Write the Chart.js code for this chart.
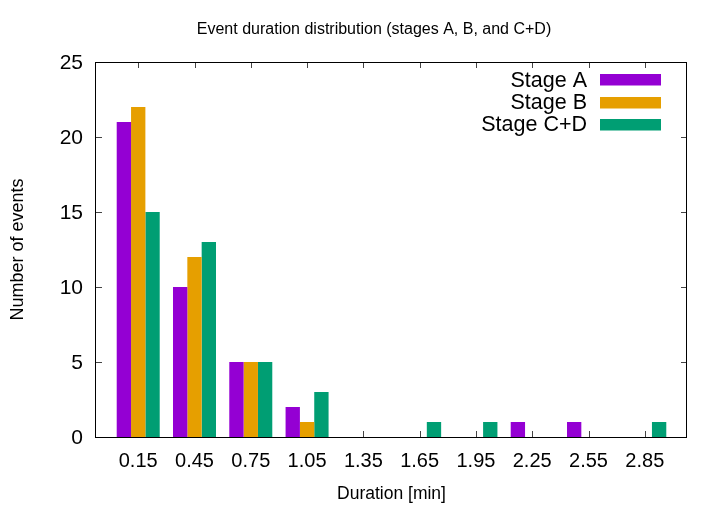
<!DOCTYPE html>
<html>
<head>
<meta charset="utf-8">
<script src="https://cdn.jsdelivr.net/npm/chart.js@4"></script>
<style>
  html, body { margin: 0; padding: 0; background: #fff; }
  #wrap { width: 727px; height: 509px; position: relative; }
</style>
</head>
<body>
<div id="wrap"><canvas id="chart"></canvas></div>
<script>
const durations = [0.15, 0.45, 0.75, 1.05, 1.35, 1.65, 1.95, 2.25, 2.55, 2.85];
const stageA = [21, 10, 5, 2, 0, 0, 0, 1, 1, 0];
const stageB = [22, 12, 5, 1, 0, 0, 0, 0, 0, 0];
const stageCD = [15, 13, 5, 3, 0, 1, 1, 0, 0, 1];
const yTicks = [0, 5, 10, 15, 20, 25];

const FONT = "'Liberation Sans', Arial, Helvetica, sans-serif";

function points(values) {
  return durations.map((x, i) => ({ x: x, y: values[i] }));
}

// gnuplot-like frame with inward ticks on all four sides
const framePlugin = {
  id: "frame",
  beforeDatasetsDraw(chart) {
    const { ctx, chartArea: a, scales } = chart;
    ctx.save();
    ctx.strokeStyle = "#444";
    ctx.lineWidth = 1;
    ctx.beginPath();
    durations.forEach((v) => {
      const px = Math.round(scales.x.getPixelForValue(v)) + 0.5;
      ctx.moveTo(px, a.bottom); ctx.lineTo(px, a.bottom - 6);
      ctx.moveTo(px, a.top); ctx.lineTo(px, a.top + 6);
    });
    yTicks.forEach((v) => {
      const py = Math.round(scales.y.getPixelForValue(v)) + 0.5;
      ctx.moveTo(a.left, py); ctx.lineTo(a.left + 6, py);
      ctx.moveTo(a.right, py); ctx.lineTo(a.right - 6, py);
    });
    ctx.stroke();
    ctx.restore();
  },
  afterDatasetsDraw(chart) {
    const { ctx, chartArea: a } = chart;
    ctx.save();
    ctx.strokeStyle = "#000";
    ctx.lineWidth = 1;
    ctx.strokeRect(Math.round(a.left) - 0.5, Math.round(a.top) + 0.5,
      Math.round(a.right - a.left), Math.round(a.bottom - a.top));
    ctx.restore();
  },
  afterDraw(chart) {
    const { ctx } = chart;
    ctx.save();
    ctx.fillStyle = "#000";
    ctx.textBaseline = "middle";
    // title, centred where gnuplot puts it
    ctx.font = "16px " + FONT;
    ctx.textAlign = "center";
    ctx.fillText("Event duration distribution (stages A, B, and C+D)", 374, 29.5);
    // key, top right inside the plot
    ctx.font = "21.5px " + FONT;
    ctx.textAlign = "right";
    chart.data.datasets.forEach((ds, i) => {
      const cy = 80 + i * 22.2;
      ctx.fillStyle = "#000";
      ctx.fillText(ds.label, 587, cy + 1);
      ctx.fillStyle = ds.backgroundColor;
      ctx.fillRect(600, Math.round(cy - 5.7), 61, 11.5);
    });
    ctx.restore();
  },
};

new Chart(document.getElementById("chart"), {
  type: "bar",
  data: {
    datasets: [
      { label: "Stage A", data: points(stageA), backgroundColor: "#9400d3" },
      { label: "Stage B", data: points(stageB), backgroundColor: "#e69f00" },
      { label: "Stage C+D", data: points(stageCD), backgroundColor: "#009e73" },
    ],
  },
  options: {
    responsive: true,
    maintainAspectRatio: false,
    animation: false,
    categoryPercentage: 0.764,
    barPercentage: 1.0,
    layout: { padding: { top: 62, right: 40, left: 0, bottom: 0 } },
    plugins: {
      legend: { display: false },
      tooltip: { enabled: false },
    },
    scales: {
      x: {
        type: "linear",
        min: -0.075,
        max: 3.075,
        offset: false,
        grid: { display: false, drawTicks: false, tickLength: 0 },
        border: { display: false },
        afterBuildTicks: (s) => { s.ticks = durations.map((v) => ({ value: v })); },
        afterFit: (s) => { s.height = 72; },
        ticks: {
          autoSkip: false,
          maxRotation: 0,
          padding: 12,
          color: "#000",
          font: { family: FONT, size: 20 },
          callback: (v) => Number(v).toFixed(2),
        },
        title: {
          display: true,
          text: "Duration [min]",
          color: "#000",
          font: { family: FONT, size: 17.5 },
          padding: { top: 4.5, bottom: 4.5 },
        },
      },
      y: {
        min: 0,
        max: 25,
        grid: { display: false, drawTicks: false, tickLength: 0 },
        border: { display: false },
        afterBuildTicks: (s) => { s.ticks = yTicks.map((v) => ({ value: v })); },
        afterFit: (s) => { s.width = 96; },
        ticks: {
          padding: 13,
          labelOffset: 1.5,
          color: "#000",
          font: { family: FONT, size: 21 },
        },
        title: {
          display: true,
          text: "Number of events",
          color: "#000",
          font: { family: FONT, size: 18 },
          padding: { top: 7.5, bottom: 0 },
        },
      },
    },
  },
  plugins: [framePlugin],
});
</script>
</body>
</html>
